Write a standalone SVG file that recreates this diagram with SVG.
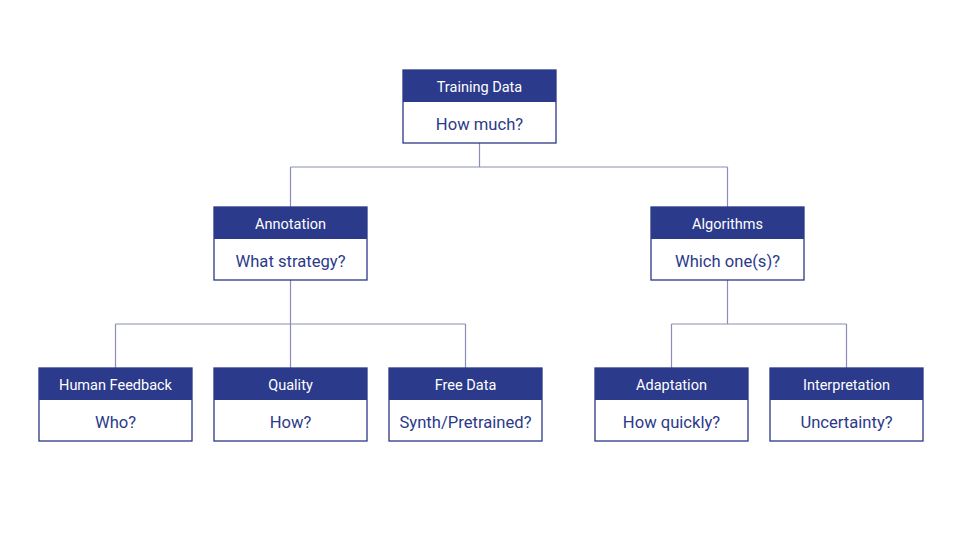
<svg xmlns="http://www.w3.org/2000/svg" width="960" height="540" viewBox="0 0 960 540">
<style>
.box{fill:#ffffff;stroke:#2b3784;stroke-width:1.3}
.hdr{fill:#2b3a8a}
.ht{font-family:Roboto,"Liberation Sans",sans-serif;font-size:14.5px;fill:#ffffff;text-anchor:middle}
.bt{font-family:Roboto,"Liberation Sans",sans-serif;font-size:16.6px;fill:#2b3a8a;text-anchor:middle}
.ln{fill:none;stroke:#8a8db5;stroke-width:1.2}
</style>
<rect width="960" height="540" fill="#ffffff"/>
<g id="connectors">
<path class="ln" d="M479.5 143V167M290.5 167H727.5M290.5 167V207M727.5 167V207"/>
<path class="ln" d="M290.5 280V324M115.5 324H465.5M115.5 324V368M290.5 324V368M465.5 324V368"/>
<path class="ln" d="M727.5 280V324M671.5 324H846.5M671.5 324V368M846.5 324V368"/>
</g>
<g id="training-data">
<rect class="box" x="403" y="70" width="153" height="73"/>
<rect class="hdr" x="403" y="70" width="153" height="32"/>
<text class="ht" x="479.5" y="91.5">Training Data</text>
<text class="bt" x="479.5" y="129.5">How much?</text>
</g>
<g id="annotation">
<rect class="box" x="214" y="207" width="153" height="73"/>
<rect class="hdr" x="214" y="207" width="153" height="32"/>
<text class="ht" x="290.5" y="228.5">Annotation</text>
<text class="bt" x="290.5" y="266.5">What strategy?</text>
</g>
<g id="algorithms">
<rect class="box" x="651" y="207" width="153" height="73"/>
<rect class="hdr" x="651" y="207" width="153" height="32"/>
<text class="ht" x="727.5" y="228.5">Algorithms</text>
<text class="bt" x="727.5" y="266.5">Which one(s)?</text>
</g>
<g id="human-feedback">
<rect class="box" x="39" y="368" width="153" height="73"/>
<rect class="hdr" x="39" y="368" width="153" height="32"/>
<text class="ht" x="115.5" y="389.5">Human Feedback</text>
<text class="bt" x="115.5" y="427.5">Who?</text>
</g>
<g id="quality">
<rect class="box" x="214" y="368" width="153" height="73"/>
<rect class="hdr" x="214" y="368" width="153" height="32"/>
<text class="ht" x="290.5" y="389.5">Quality</text>
<text class="bt" x="290.5" y="427.5">How?</text>
</g>
<g id="free-data">
<rect class="box" x="389" y="368" width="153" height="73"/>
<rect class="hdr" x="389" y="368" width="153" height="32"/>
<text class="ht" x="465.5" y="389.5">Free Data</text>
<text class="bt" x="465.5" y="427.5">Synth/Pretrained?</text>
</g>
<g id="adaptation">
<rect class="box" x="595" y="368" width="153" height="73"/>
<rect class="hdr" x="595" y="368" width="153" height="32"/>
<text class="ht" x="671.5" y="389.5">Adaptation</text>
<text class="bt" x="671.5" y="427.5">How quickly?</text>
</g>
<g id="interpretation">
<rect class="box" x="770" y="368" width="153" height="73"/>
<rect class="hdr" x="770" y="368" width="153" height="32"/>
<text class="ht" x="846.5" y="389.5">Interpretation</text>
<text class="bt" x="846.5" y="427.5">Uncertainty?</text>
</g>
</svg>
